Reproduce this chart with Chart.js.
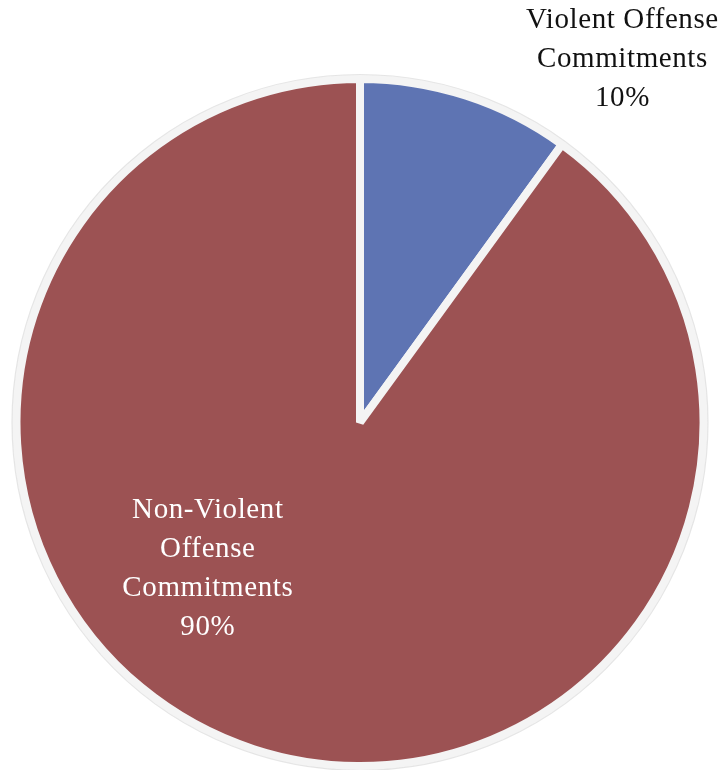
<!DOCTYPE html>
<html>
<head>
<meta charset="utf-8">
<script src="https://cdn.jsdelivr.net/npm/chart.js@4"></script>
<style>
  html, body { margin: 0; padding: 0; background: #fff; }
  #wrap { width: 727px; height: 770px; }
</style>
</head>
<body>
<div id="wrap"><canvas id="pieChart"></canvas></div>
<script>
const categories = ['Violent Offense Commitments', 'Non-Violent Offense Commitments'];
const labelLines = [['Violent Offense', 'Commitments'], ['Non-Violent', 'Offense', 'Commitments']];
const shares = [10, 90];
const sliceColors = ['#5e74b3', '#9c5253'];
const labelColors = ['#111111', '#ffffff'];
// label spots, in units of the pie radius from its centre
const labelSpots = [[0.764, -1.058], [-0.443, 0.427]];

const labelPlugin = {
    id: 'sliceLabels',
    afterDatasetsDraw(chart) {
        const ctx = chart.ctx;
        const arc = chart.getDatasetMeta(0).data[0];
        const cx = arc.x, cy = arc.y, r = arc.outerRadius;
        const total = shares.reduce((a, b) => a + b, 0);
        ctx.save();
        // faint shadow line round the outer ring
        ctx.beginPath();
        ctx.arc(cx, cy, r + 4.5, 0, Math.PI * 2);
        ctx.strokeStyle = 'rgba(0,0,0,0.10)';
        ctx.lineWidth = 1.2;
        ctx.stroke();

        ctx.font = '29px "Liberation Serif", serif';
        ctx.letterSpacing = '0.6px';
        ctx.textAlign = 'center';
        ctx.textBaseline = 'middle';
        const lineH = 39;
        shares.forEach((v, i) => {
            const lines = labelLines[i].concat([Math.round(v / total * 100) + '%']);
            const x = cx + labelSpots[i][0] * r;
            const y0 = cy + labelSpots[i][1] * r - (lines.length - 1) * lineH / 2;
            ctx.fillStyle = labelColors[i];
            lines.forEach((t, j) => ctx.fillText(t, x, y0 + j * lineH));
        });
        ctx.restore();
    }
};

new Chart(document.getElementById('pieChart'), {
    type: 'pie',
    data: {
        labels: categories,
        datasets: [{
            data: shares,
            backgroundColor: sliceColors,
            borderColor: '#f4f4f4',
            borderWidth: 8
        }]
    },
    options: {
        responsive: true,
        maintainAspectRatio: false,
        animation: false,
        layout: { padding: { left: 12, right: 19, top: 75, bottom: 0 } },
        plugins: {
            legend: { display: false },
            tooltip: { enabled: false }
        }
    },
    plugins: [labelPlugin]
});
</script>
</body>
</html>
